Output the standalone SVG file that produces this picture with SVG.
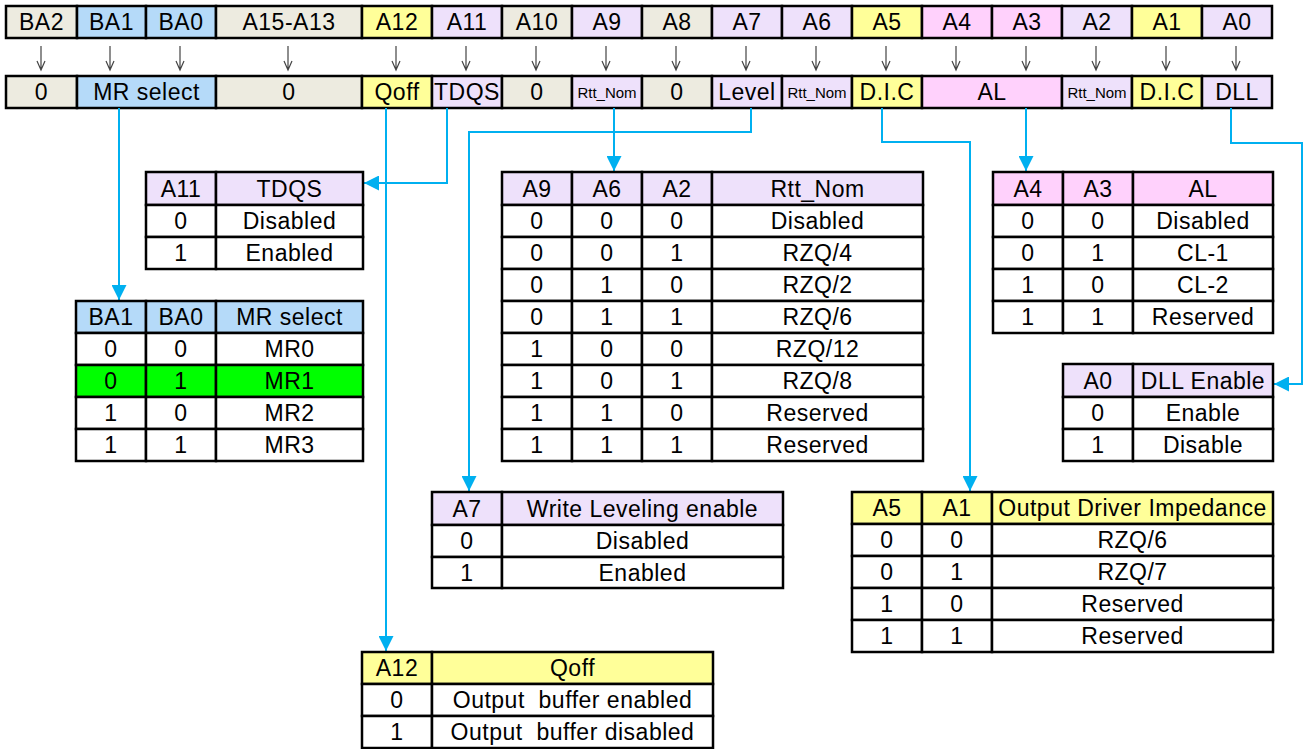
<svg xmlns="http://www.w3.org/2000/svg" width="1306" height="749" viewBox="0 0 1306 749">
<style>
.t{font-family:"Liberation Sans",Arial,sans-serif;font-size:23px;letter-spacing:0.5px;text-anchor:middle;fill:#000;white-space:pre}
.s{font-size:15px;letter-spacing:0px}
.c{stroke:#000;stroke-width:2.5;fill:#fff}
.beige{fill:#EDEBE0}
.blue{fill:#B5DAF9}
.yel{fill:#FFFF99}
.lav{fill:#EEE1FB}
.pink{fill:#FFD1FC}
.grn{fill:#00FF00}
.ga{fill:none;stroke:#444;stroke-width:1.2}
.con{fill:none;stroke:#00B0F0;stroke-width:2;marker-end:url(#ah)}
</style>
<defs>
<marker id="ah" markerUnits="userSpaceOnUse" viewBox="0 0 15 15" markerWidth="15" markerHeight="15" refX="15" refY="7.5" orient="auto">
<path d="M0,0 L15,7.5 L0,15 Z" fill="#00B0F0"/>
</marker>
</defs>
<rect width="1306" height="749" fill="#fff"/>

<g id="address-bits">
<rect class="c beige" x="6" y="6" width="71" height="32"/><text class="t" x="41.5" y="30">BA2</text>
<rect class="c blue" x="77" y="6" width="69" height="32"/><text class="t" x="111.5" y="30">BA1</text>
<rect class="c blue" x="146" y="6" width="70" height="32"/><text class="t" x="181" y="30">BA0</text>
<rect class="c beige" x="216" y="6" width="146" height="32"/><text class="t" x="289" y="30">A15-A13</text>
<rect class="c yel" x="362" y="6" width="70" height="32"/><text class="t" x="397" y="30">A12</text>
<rect class="c lav" x="432" y="6" width="70" height="32"/><text class="t" x="467" y="30">A11</text>
<rect class="c beige" x="502" y="6" width="70" height="32"/><text class="t" x="537" y="30">A10</text>
<rect class="c lav" x="572" y="6" width="70" height="32"/><text class="t" x="607" y="30">A9</text>
<rect class="c beige" x="642" y="6" width="70" height="32"/><text class="t" x="677" y="30">A8</text>
<rect class="c lav" x="712" y="6" width="70" height="32"/><text class="t" x="747" y="30">A7</text>
<rect class="c lav" x="782" y="6" width="70" height="32"/><text class="t" x="817" y="30">A6</text>
<rect class="c yel" x="852" y="6" width="70" height="32"/><text class="t" x="887" y="30">A5</text>
<rect class="c pink" x="922" y="6" width="70" height="32"/><text class="t" x="957" y="30">A4</text>
<rect class="c pink" x="992" y="6" width="70" height="32"/><text class="t" x="1027" y="30">A3</text>
<rect class="c lav" x="1062" y="6" width="70" height="32"/><text class="t" x="1097" y="30">A2</text>
<rect class="c yel" x="1132" y="6" width="70" height="32"/><text class="t" x="1167" y="30">A1</text>
<rect class="c lav" x="1202" y="6" width="70" height="32"/><text class="t" x="1237" y="30">A0</text>
</g>

<g id="bit-arrows">
<path class="ga" d="M41,46V70M37,61L41,70L45,61"/>
<path class="ga" d="M110,46V70M106,61L110,70L114,61"/>
<path class="ga" d="M180,46V70M176,61L180,70L184,61"/>
<path class="ga" d="M288,46V70M284,61L288,70L292,61"/>
<path class="ga" d="M396,46V70M392,61L396,70L400,61"/>
<path class="ga" d="M466,46V70M462,61L466,70L470,61"/>
<path class="ga" d="M536,46V70M532,61L536,70L540,61"/>
<path class="ga" d="M606,46V70M602,61L606,70L610,61"/>
<path class="ga" d="M676,46V70M672,61L676,70L680,61"/>
<path class="ga" d="M746,46V70M742,61L746,70L750,61"/>
<path class="ga" d="M816,46V70M812,61L816,70L820,61"/>
<path class="ga" d="M886,46V70M882,61L886,70L890,61"/>
<path class="ga" d="M956,46V70M952,61L956,70L960,61"/>
<path class="ga" d="M1026,46V70M1022,61L1026,70L1030,61"/>
<path class="ga" d="M1096,46V70M1092,61L1096,70L1100,61"/>
<path class="ga" d="M1166,46V70M1162,61L1166,70L1170,61"/>
<path class="ga" d="M1236,46V70M1232,61L1236,70L1240,61"/>
</g>

<g id="field-ba2"><rect class="c beige" x="6" y="76" width="71" height="32"/><text class="t" x="41.5" y="100">0</text></g>
<g id="field-mrselect"><rect class="c blue" x="77" y="76" width="139" height="32"/><text class="t" x="146.5" y="100">MR select</text></g>
<g id="field-a15"><rect class="c beige" x="216" y="76" width="146" height="32"/><text class="t" x="289" y="100">0</text></g>
<g id="field-qoff"><rect class="c yel" x="362" y="76" width="70" height="32"/><text class="t" x="397" y="100">Qoff</text></g>
<g id="field-tdqs"><rect class="c lav" x="432" y="76" width="70" height="32"/><text class="t" x="467" y="100">TDQS</text></g>
<g id="field-a10"><rect class="c beige" x="502" y="76" width="70" height="32"/><text class="t" x="537" y="100">0</text></g>
<g id="field-rtt9"><rect class="c lav" x="572" y="76" width="70" height="32"/><text class="t s" x="607" y="98">Rtt_Nom</text></g>
<g id="field-a8"><rect class="c beige" x="642" y="76" width="70" height="32"/><text class="t" x="677" y="100">0</text></g>
<g id="field-level"><rect class="c lav" x="712" y="76" width="70" height="32"/><text class="t" x="747" y="100">Level</text></g>
<g id="field-rtt6"><rect class="c lav" x="782" y="76" width="70" height="32"/><text class="t s" x="817" y="98">Rtt_Nom</text></g>
<g id="field-dic5"><rect class="c yel" x="852" y="76" width="70" height="32"/><text class="t" x="887" y="100">D.I.C</text></g>
<g id="field-al"><rect class="c pink" x="922" y="76" width="140" height="32"/><text class="t" x="992" y="100">AL</text></g>
<g id="field-rtt2"><rect class="c lav" x="1062" y="76" width="70" height="32"/><text class="t s" x="1097" y="98">Rtt_Nom</text></g>
<g id="field-dic1"><rect class="c yel" x="1132" y="76" width="70" height="32"/><text class="t" x="1167" y="100">D.I.C</text></g>
<g id="field-dll"><rect class="c lav" x="1202" y="76" width="70" height="32"/><text class="t" x="1237" y="100">DLL</text></g>

<g id="connectors">
<path class="con" d="M119,108V300"/>
<path class="con" d="M447,108V183H364"/>
<path class="con" d="M386,108V651"/>
<path class="con" d="M751,108V132H469V491"/>
<path class="con" d="M614,108V171"/>
<path class="con" d="M882,108V142H970V491"/>
<path class="con" d="M1026,108V171"/>
<path class="con" d="M1231,108V143H1302V384H1274"/>
</g>

<g id="table-tdqs">
<rect class="c lav" x="146" y="172" width="70" height="33"/><text class="t" x="181" y="197">A11</text>
<rect class="c lav" x="216" y="172" width="147" height="33"/><text class="t" x="289.5" y="197">TDQS</text>
<rect class="c" x="146" y="205" width="70" height="32"/><text class="t" x="181" y="229">0</text>
<rect class="c" x="216" y="205" width="147" height="32"/><text class="t" x="289.5" y="229">Disabled</text>
<rect class="c" x="146" y="237" width="70" height="32"/><text class="t" x="181" y="261">1</text>
<rect class="c" x="216" y="237" width="147" height="32"/><text class="t" x="289.5" y="261">Enabled</text>
</g>

<g id="table-mrselect">
<rect class="c blue" x="76" y="301" width="70" height="32"/><text class="t" x="111" y="325">BA1</text>
<rect class="c blue" x="146" y="301" width="70" height="32"/><text class="t" x="181" y="325">BA0</text>
<rect class="c blue" x="216" y="301" width="147" height="32"/><text class="t" x="289.5" y="325">MR select</text>
<rect class="c" x="76" y="333" width="70" height="32"/><text class="t" x="111" y="357">0</text>
<rect class="c" x="146" y="333" width="70" height="32"/><text class="t" x="181" y="357">0</text>
<rect class="c" x="216" y="333" width="147" height="32"/><text class="t" x="289.5" y="357">MR0</text>
<rect class="c grn" x="76" y="365" width="70" height="32"/><text class="t" x="111" y="389">0</text>
<rect class="c grn" x="146" y="365" width="70" height="32"/><text class="t" x="181" y="389">1</text>
<rect class="c grn" x="216" y="365" width="147" height="32"/><text class="t" x="289.5" y="389">MR1</text>
<rect class="c" x="76" y="397" width="70" height="32"/><text class="t" x="111" y="421">1</text>
<rect class="c" x="146" y="397" width="70" height="32"/><text class="t" x="181" y="421">0</text>
<rect class="c" x="216" y="397" width="147" height="32"/><text class="t" x="289.5" y="421">MR2</text>
<rect class="c" x="76" y="429" width="70" height="32"/><text class="t" x="111" y="453">1</text>
<rect class="c" x="146" y="429" width="70" height="32"/><text class="t" x="181" y="453">1</text>
<rect class="c" x="216" y="429" width="147" height="32"/><text class="t" x="289.5" y="453">MR3</text>
</g>

<g id="table-rttnom">
<rect class="c lav" x="502" y="172" width="70" height="33"/><text class="t" x="537" y="197">A9</text>
<rect class="c lav" x="572" y="172" width="70" height="33"/><text class="t" x="607" y="197">A6</text>
<rect class="c lav" x="642" y="172" width="70" height="33"/><text class="t" x="677" y="197">A2</text>
<rect class="c lav" x="712" y="172" width="211" height="33"/><text class="t" x="817.5" y="197">Rtt_Nom</text>
<rect class="c" x="502" y="205" width="70" height="32"/><text class="t" x="537" y="229">0</text>
<rect class="c" x="572" y="205" width="70" height="32"/><text class="t" x="607" y="229">0</text>
<rect class="c" x="642" y="205" width="70" height="32"/><text class="t" x="677" y="229">0</text>
<rect class="c" x="712" y="205" width="211" height="32"/><text class="t" x="817.5" y="229">Disabled</text>
<rect class="c" x="502" y="237" width="70" height="32"/><text class="t" x="537" y="261">0</text>
<rect class="c" x="572" y="237" width="70" height="32"/><text class="t" x="607" y="261">0</text>
<rect class="c" x="642" y="237" width="70" height="32"/><text class="t" x="677" y="261">1</text>
<rect class="c" x="712" y="237" width="211" height="32"/><text class="t" x="817.5" y="261">RZQ/4</text>
<rect class="c" x="502" y="269" width="70" height="32"/><text class="t" x="537" y="293">0</text>
<rect class="c" x="572" y="269" width="70" height="32"/><text class="t" x="607" y="293">1</text>
<rect class="c" x="642" y="269" width="70" height="32"/><text class="t" x="677" y="293">0</text>
<rect class="c" x="712" y="269" width="211" height="32"/><text class="t" x="817.5" y="293">RZQ/2</text>
<rect class="c" x="502" y="301" width="70" height="32"/><text class="t" x="537" y="325">0</text>
<rect class="c" x="572" y="301" width="70" height="32"/><text class="t" x="607" y="325">1</text>
<rect class="c" x="642" y="301" width="70" height="32"/><text class="t" x="677" y="325">1</text>
<rect class="c" x="712" y="301" width="211" height="32"/><text class="t" x="817.5" y="325">RZQ/6</text>
<rect class="c" x="502" y="333" width="70" height="32"/><text class="t" x="537" y="357">1</text>
<rect class="c" x="572" y="333" width="70" height="32"/><text class="t" x="607" y="357">0</text>
<rect class="c" x="642" y="333" width="70" height="32"/><text class="t" x="677" y="357">0</text>
<rect class="c" x="712" y="333" width="211" height="32"/><text class="t" x="817.5" y="357">RZQ/12</text>
<rect class="c" x="502" y="365" width="70" height="32"/><text class="t" x="537" y="389">1</text>
<rect class="c" x="572" y="365" width="70" height="32"/><text class="t" x="607" y="389">0</text>
<rect class="c" x="642" y="365" width="70" height="32"/><text class="t" x="677" y="389">1</text>
<rect class="c" x="712" y="365" width="211" height="32"/><text class="t" x="817.5" y="389">RZQ/8</text>
<rect class="c" x="502" y="397" width="70" height="32"/><text class="t" x="537" y="421">1</text>
<rect class="c" x="572" y="397" width="70" height="32"/><text class="t" x="607" y="421">1</text>
<rect class="c" x="642" y="397" width="70" height="32"/><text class="t" x="677" y="421">0</text>
<rect class="c" x="712" y="397" width="211" height="32"/><text class="t" x="817.5" y="421">Reserved</text>
<rect class="c" x="502" y="429" width="70" height="32"/><text class="t" x="537" y="453">1</text>
<rect class="c" x="572" y="429" width="70" height="32"/><text class="t" x="607" y="453">1</text>
<rect class="c" x="642" y="429" width="70" height="32"/><text class="t" x="677" y="453">1</text>
<rect class="c" x="712" y="429" width="211" height="32"/><text class="t" x="817.5" y="453">Reserved</text>
</g>

<g id="table-al">
<rect class="c pink" x="993" y="172" width="70" height="33"/><text class="t" x="1028" y="197">A4</text>
<rect class="c pink" x="1063" y="172" width="70" height="33"/><text class="t" x="1098" y="197">A3</text>
<rect class="c pink" x="1133" y="172" width="140" height="33"/><text class="t" x="1203" y="197">AL</text>
<rect class="c" x="993" y="205" width="70" height="32"/><text class="t" x="1028" y="229">0</text>
<rect class="c" x="1063" y="205" width="70" height="32"/><text class="t" x="1098" y="229">0</text>
<rect class="c" x="1133" y="205" width="140" height="32"/><text class="t" x="1203" y="229">Disabled</text>
<rect class="c" x="993" y="237" width="70" height="32"/><text class="t" x="1028" y="261">0</text>
<rect class="c" x="1063" y="237" width="70" height="32"/><text class="t" x="1098" y="261">1</text>
<rect class="c" x="1133" y="237" width="140" height="32"/><text class="t" x="1203" y="261">CL-1</text>
<rect class="c" x="993" y="269" width="70" height="32"/><text class="t" x="1028" y="293">1</text>
<rect class="c" x="1063" y="269" width="70" height="32"/><text class="t" x="1098" y="293">0</text>
<rect class="c" x="1133" y="269" width="140" height="32"/><text class="t" x="1203" y="293">CL-2</text>
<rect class="c" x="993" y="301" width="70" height="32"/><text class="t" x="1028" y="325">1</text>
<rect class="c" x="1063" y="301" width="70" height="32"/><text class="t" x="1098" y="325">1</text>
<rect class="c" x="1133" y="301" width="140" height="32"/><text class="t" x="1203" y="325">Reserved</text>
</g>

<g id="table-dll">
<rect class="c lav" x="1063" y="364" width="70" height="33"/><text class="t" x="1098" y="389">A0</text>
<rect class="c lav" x="1133" y="364" width="140" height="33"/><text class="t" x="1203" y="389">DLL Enable</text>
<rect class="c" x="1063" y="397" width="70" height="32"/><text class="t" x="1098" y="421">0</text>
<rect class="c" x="1133" y="397" width="140" height="32"/><text class="t" x="1203" y="421">Enable</text>
<rect class="c" x="1063" y="429" width="70" height="32"/><text class="t" x="1098" y="453">1</text>
<rect class="c" x="1133" y="429" width="140" height="32"/><text class="t" x="1203" y="453">Disable</text>
</g>

<g id="table-wlevel">
<rect class="c lav" x="432" y="492" width="70" height="33"/><text class="t" x="467" y="517">A7</text>
<rect class="c lav" x="502" y="492" width="281" height="33"/><text class="t" x="642.5" y="517">Write Leveling enable</text>
<rect class="c" x="432" y="525" width="70" height="32"/><text class="t" x="467" y="549">0</text>
<rect class="c" x="502" y="525" width="281" height="32"/><text class="t" x="642.5" y="549">Disabled</text>
<rect class="c" x="432" y="557" width="70" height="31"/><text class="t" x="467" y="581">1</text>
<rect class="c" x="502" y="557" width="281" height="31"/><text class="t" x="642.5" y="581">Enabled</text>
</g>

<g id="table-odi">
<rect class="c yel" x="852" y="492" width="70" height="32"/><text class="t" x="887" y="516">A5</text>
<rect class="c yel" x="922" y="492" width="70" height="32"/><text class="t" x="957" y="516">A1</text>
<rect class="c yel" x="992" y="492" width="281" height="32"/><text class="t" x="1132.5" y="516">Output Driver Impedance</text>
<rect class="c" x="852" y="524" width="70" height="32"/><text class="t" x="887" y="548">0</text>
<rect class="c" x="922" y="524" width="70" height="32"/><text class="t" x="957" y="548">0</text>
<rect class="c" x="992" y="524" width="281" height="32"/><text class="t" x="1132.5" y="548">RZQ/6</text>
<rect class="c" x="852" y="556" width="70" height="32"/><text class="t" x="887" y="580">0</text>
<rect class="c" x="922" y="556" width="70" height="32"/><text class="t" x="957" y="580">1</text>
<rect class="c" x="992" y="556" width="281" height="32"/><text class="t" x="1132.5" y="580">RZQ/7</text>
<rect class="c" x="852" y="588" width="70" height="32"/><text class="t" x="887" y="612">1</text>
<rect class="c" x="922" y="588" width="70" height="32"/><text class="t" x="957" y="612">0</text>
<rect class="c" x="992" y="588" width="281" height="32"/><text class="t" x="1132.5" y="612">Reserved</text>
<rect class="c" x="852" y="620" width="70" height="32"/><text class="t" x="887" y="644">1</text>
<rect class="c" x="922" y="620" width="70" height="32"/><text class="t" x="957" y="644">1</text>
<rect class="c" x="992" y="620" width="281" height="32"/><text class="t" x="1132.5" y="644">Reserved</text>
</g>

<g id="table-qoff">
<rect class="c yel" x="362" y="652" width="70" height="32"/><text class="t" x="397" y="676">A12</text>
<rect class="c yel" x="432" y="652" width="281" height="32"/><text class="t" x="572.5" y="676">Qoff</text>
<rect class="c" x="362" y="684" width="70" height="32"/><text class="t" x="397" y="708">0</text>
<rect class="c" x="432" y="684" width="281" height="32"/><text class="t" x="572.5" y="708">Output  buffer enabled</text>
<rect class="c" x="362" y="716" width="70" height="32"/><text class="t" x="397" y="740">1</text>
<rect class="c" x="432" y="716" width="281" height="32"/><text class="t" x="572.5" y="740">Output  buffer disabled</text>
</g>
</svg>
